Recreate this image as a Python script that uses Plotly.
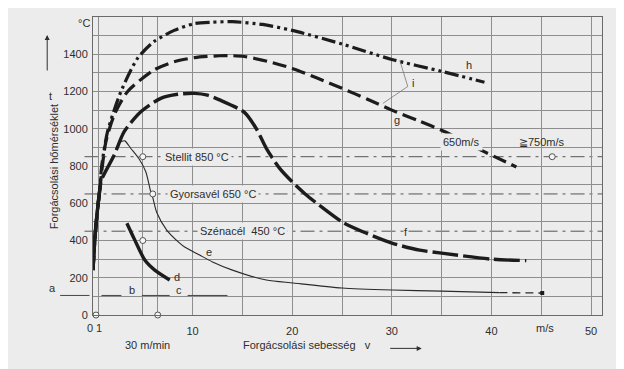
import plotly.graph_objects as go

# ---------------- data ----------------
X_RANGE = [0, 51.1]
Y_RANGE = [0, 1600]

# common rising base of curves f, g, h
base_x = [0, 0.2, 0.45, 0.7]
base_y = [241, 420, 565, 680]

h_x = [0.85, 1.46, 2.8, 4.47, 6.1, 8.15, 10.2, 12, 14, 17, 20, 25, 30, 35, 39.3]
h_y = [790, 984, 1199, 1378, 1467, 1528, 1565, 1572, 1575, 1560, 1528, 1455, 1372, 1308, 1250]

g_x = [0.85, 1.29, 2.13, 3.46, 6.1, 8.15, 10.2, 12.7, 14, 15.2, 17.5, 20, 22.5, 25, 27.5, 30, 32.8, 35, 37, 39, 42.5]
g_y = [760, 930, 1074, 1199, 1315, 1360, 1382, 1392, 1392, 1388, 1362, 1324, 1272, 1217, 1160, 1100, 1040, 992, 940, 884, 795]

f_x = [0.85, 2.13, 3.13, 4.8, 6.8, 8.5, 10.2, 11.5, 12.7, 15.2, 16.4, 17.4, 18.7, 20, 21.3, 22.7, 25, 27.4, 30, 32.8, 35, 40, 43.5]
f_y = [725, 859, 984, 1091, 1163, 1185, 1190, 1180, 1155, 1088, 1000, 895, 790, 715, 650, 590, 500, 440, 386, 348, 332, 300, 292]

e_x = [2.8, 3.2, 3.8, 4.6, 5.3, 5.8, 6.0, 6.4, 7.4, 8.7, 9.2, 10.7, 12, 14, 17.4, 20.1, 25, 30, 35, 40.8]
e_y = [930, 935, 894, 840, 769, 660, 630, 550, 456, 386, 365, 322, 285, 241, 188, 172, 145, 134, 128, 120]
e_ext_x = [40.8, 45.1]
e_ext_y = [120, 118]

d_x = [3.4, 4.2, 5.2, 6.2, 7.7]
d_y = [493, 402, 295, 241, 188]

ref_temps = [850, 650, 450]
ref_labels = ["Stellit 850 °C", "Gyorsavél 650 °C", "Szénacél  450 °C"]
ref_label_x = [6.9, 7.4, 10.4]

# short horizontal segments a, b, c
seg_y = 105
seg_x = [(-3.3, -0.35), (0.85, 2.85), (4.9, 7.7), (9.5, 13.5)]

# leader lines of label i
i_lead_x = [30.8, 31.6, 29.1]
i_lead_y = [1367, 1227, 1136]

# small open circles
circ_x = [5.0, 46.1, 6.0, 5.0, 0.3, 6.5]
circ_y = [850, 850, 650, 400, 0, 0]

curve_labels = ["h", "i", "g", "f", "e", "d", "a", "b", "c", "≧750m/s"]
curve_label_x = [37.7, 32.1, 30.5, 31.4, 11.6, 8.4, -4.1, 3.9, 8.6, 45.1]
curve_label_y = [1340, 1244, 1045, 445, 338, 204, 145, 134, 134, 927]
masked_label = "650m/s"
masked_label_x = 37.0
masked_label_y = 927

x_grid = [0, 0.55, 5, 6.5, 10, 15, 20, 25, 30, 35, 40, 45, 50]
x_ticktext = ["", "", "", "", "10", "", "20", "", "30", "", "40", "", "50"]
x_small_ticks = ["0", "1"]
x_small_ticks_pos = [0, 0.55]
y_tickvals = list(range(0, 1700, 100))
y_ticktext = [str(v) if (v % 200 == 0 and v <= 1400) else "" for v in y_tickvals]

# ---------------- style ----------------
BG = "#ececec"
INK = "#1c1c1c"
TXT = "#2e2e2e"
GRID = "#8e8e8e"
FONT = "Liberation Sans, Arial, sans-serif"
FS = 11


def to_paper_x(v):
    return (v - X_RANGE[0]) / (X_RANGE[1] - X_RANGE[0])


def to_paper_y(v):
    return (v - Y_RANGE[0]) / (Y_RANGE[1] - Y_RANGE[0])


fig = go.Figure()


def add_curve(x, y, width, dash, color=INK):
    fig.add_trace(go.Scatter(
        x=x, y=y, mode="lines",
        line=dict(width=width, dash=dash, color=color, shape="spline", smoothing=0.7),
        hoverinfo="skip", showlegend=False))


add_curve(base_x + h_x, base_y + h_y, 3.2, "14px,4px,3px,4px,3px,4px")
add_curve(base_x + g_x, base_y + g_y, 3.2, "14px,6px")
add_curve(base_x + f_x, base_y + f_y, 3.4, "26px,5px")
add_curve(base_x, base_y, 3.4, "solid")
add_curve(e_x, e_y, 1.1, "solid", "#2a2a2a")
add_curve(e_ext_x, e_ext_y, 1.3, "8px,5px", "#2a2a2a")
add_curve(d_x, d_y, 3.4, "solid")

fig.add_trace(go.Scatter(x=i_lead_x, y=i_lead_y, mode="lines",
                         line=dict(width=0.8, color="#777"),
                         hoverinfo="skip", showlegend=False))

fig.add_trace(go.Scatter(x=[e_ext_x[-1]], y=[e_ext_y[-1]], mode="markers",
                         marker=dict(symbol="square", size=4, color=INK),
                         hoverinfo="skip", showlegend=False))

fig.add_trace(go.Scatter(x=circ_x, y=circ_y, mode="markers", cliponaxis=False,
                         marker=dict(symbol="circle", size=6, color="#f6f6f6",
                                     line=dict(width=1, color="#555")),
                         hoverinfo="skip", showlegend=False))

shapes = []
for t in ref_temps:
    shapes.append(dict(type="line", xref="paper", yref="paper",
                       x0=to_paper_x(-0.85), x1=1, y0=to_paper_y(t), y1=to_paper_y(t),
                       line=dict(color="#555", width=1, dash="14px,5px,3px,5px"),
                       layer="below"))
for (a, b) in seg_x:
    shapes.append(dict(type="line", xref="paper", yref="paper",
                       x0=to_paper_x(a), x1=to_paper_x(b),
                       y0=to_paper_y(seg_y), y1=to_paper_y(seg_y),
                       line=dict(color="#444", width=1)))
fig.update_layout(shapes=shapes)

ann = []
for lbl, lx, t in zip(ref_labels, ref_label_x, ref_temps):
    ann.append(dict(x=lx, y=t, xref="x", yref="y", text=lbl, showarrow=False,
                    xanchor="left", yanchor="middle", bgcolor=BG, borderpad=2,
                    font=dict(size=FS, color=TXT, family=FONT)))
for lbl, lx, ly in zip(curve_labels, curve_label_x, curve_label_y):
    ann.append(dict(x=to_paper_x(lx), y=to_paper_y(ly), xref="paper", yref="paper",
                    text=lbl, showarrow=False, xanchor="center", yanchor="middle",
                    font=dict(size=FS, color=TXT, family=FONT)))
ann.append(dict(x=masked_label_x, y=masked_label_y, xref="x", yref="y", text=masked_label,
                showarrow=False, bgcolor=BG, borderpad=2,
                font=dict(size=FS, color=TXT, family=FONT)))
for lbl, lx, sh in zip(x_small_ticks, x_small_ticks_pos, [-3, 1]):
    ann.append(dict(x=lx, y=-0.0436, xref="x", yref="paper", text=lbl, showarrow=False,
                    xshift=sh, yanchor="middle", font=dict(size=FS, color=TXT, family=FONT)))

# axis texts
ann.append(dict(x=-0.033, y=1568, xref="paper", yref="y", text="°C", showarrow=False,
                font=dict(size=FS, color=TXT, family=FONT)))
ann.append(dict(x=45.4, y=-0.0436, xref="x", yref="paper", text="m/s", showarrow=False,
                yanchor="middle", font=dict(size=FS, color=TXT, family=FONT)))
ann.append(dict(x=5.5, y=-0.10, xref="x", yref="paper", text="30 m/min", showarrow=False,
                yanchor="middle", font=dict(size=FS, color=TXT, family=FONT)))
ann.append(dict(x=14.9, y=-0.10, xref="x", yref="paper", text="Forgácsolási sebesség   v",
                showarrow=False, xanchor="left", yanchor="middle",
                font=dict(size=FS, color=TXT, family=FONT)))
ann.append(dict(x=to_paper_x(33.0), y=-0.112, xref="paper", yref="paper", text="",
                showarrow=True, ax=-33, ay=0, arrowhead=2, arrowsize=1, arrowwidth=1,
                arrowcolor=TXT))
ann.append(dict(x=-0.092, y=(315 - 167) / 298, xref="paper", yref="paper",
                text="Forgácsolási hőmérséklet", textangle=-90, showarrow=False,
                font=dict(size=FS, color=TXT, family=FONT)))
ann.append(dict(x=-0.090, y=(315 - 88) / 298, xref="paper", yref="paper",
                text="t", showarrow=False, font=dict(size=FS, color=TXT, family=FONT)))
ann.append(dict(x=-0.090, y=(315 - 35) / 298, xref="paper", yref="paper", text="",
                showarrow=True, ax=0, ay=37, arrowhead=2, arrowsize=1, arrowwidth=1,
                arrowcolor=TXT))
fig.update_layout(annotations=ann)

fig.update_layout(
    width=616, height=361,
    margin=dict(l=85, r=22, t=9, b=54),
    paper_bgcolor=BG, plot_bgcolor=BG,
    font=dict(family=FONT, size=FS, color=TXT),
    xaxis=dict(range=X_RANGE, tickmode="array", tickvals=x_grid, ticktext=x_ticktext,
               showgrid=True, gridcolor=GRID, gridwidth=1, zeroline=False,
               showline=True, mirror=True, linecolor="#6a6a6a", linewidth=1,
               ticks="", ticklabelstandoff=6, fixedrange=True),
    yaxis=dict(range=Y_RANGE, tickmode="array", tickvals=y_tickvals, ticktext=y_ticktext,
               showgrid=True, gridcolor=GRID, gridwidth=1, zeroline=False,
               showline=True, mirror=True, linecolor="#6a6a6a", linewidth=1,
               ticks="", ticklabelstandoff=2, fixedrange=True),
    showlegend=False,
)

fig.write_html("out.html")
